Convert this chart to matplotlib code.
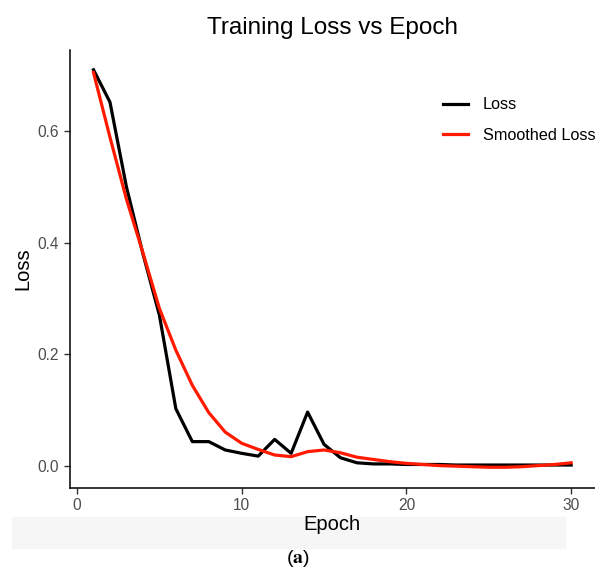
import numpy as np
import matplotlib
matplotlib.use("Agg")
import matplotlib.pyplot as plt
from matplotlib.patches import Rectangle

# ==================== DADOS ====================
epocas = list(range(1, 31))
loss = [0.710, 0.652, 0.500, 0.380, 0.270, 0.102, 0.043, 0.043, 0.028, 0.022,
        0.017, 0.047, 0.022, 0.096, 0.038, 0.014, 0.005, 0.003, 0.003, 0.002,
        0.002, 0.002, 0.001, 0.001, 0.001, 0.001, 0.001, 0.001, 0.001, 0.001]
loss_suave = [0.705, 0.589, 0.478, 0.382, 0.282, 0.207, 0.144, 0.095, 0.060, 0.040,
              0.029, 0.019, 0.016, 0.025, 0.028, 0.023, 0.015, 0.011, 0.007, 0.004,
              0.002, 0.000, -0.001, -0.002, -0.003, -0.003, -0.002, 0.000, 0.002, 0.005]
xticks = [0, 10, 20, 30]
yticks = [0.0, 0.2, 0.4, 0.6]
# ===============================================

plt.rcParams['font.family'] = ['Liberation Sans', 'DejaVu Sans']
plt.rcParams['mathtext.fontset'] = 'stix'

fig = plt.figure(figsize=(5.95, 5.85), dpi=100)
ax = fig.add_axes([0.117, 0.166, 0.883, 0.749])

# faixa cinza clara atrás do rótulo do eixo x
fig.patches.append(Rectangle((0.02, 0.063), 0.93, 0.053, transform=fig.transFigure,
                             color='#f6f6f6', zorder=-5))

ax.plot(epocas, loss, color='black', lw=2.3, label='Loss')
ax.plot(epocas, loss_suave, color='#ff1a00', lw=2.3, label='Smoothed Loss')

ax.set_xlim(-0.45, 31.45)
ax.set_ylim(-0.04, 0.746)
ax.set_xticks(xticks)
ax.set_yticks(yticks)
ax.set_yticklabels([f'{v:.1f}' for v in yticks])
ax.tick_params(colors='#333333', labelcolor='#4d4d4d', labelsize=11.2, length=4, width=1)
ax.patch.set_alpha(0)

for lado in ['top', 'right']:
    ax.spines[lado].set_visible(False)
for lado in ['left', 'bottom']:
    ax.spines[lado].set_linewidth(1.1)

ax.set_xlabel('Epoch', fontsize=14.5, labelpad=1)
ax.set_ylabel('Loss', fontsize=14.5, labelpad=4)
fig.text(0.558, 0.952, 'Training Loss vs Epoch', fontsize=17.5, ha='center', va='center')

ax.legend(loc='upper left', bbox_to_anchor=(0.683, 0.925), frameon=False, fontsize=11.7,
          handlelength=1.55, labelspacing=0.95, handletextpad=0.9)

fig.text(0.5, 0.046, r'($\mathbf{a}$)', fontsize=14, ha='center', va='center')

fig.savefig('out.png', dpi=100, facecolor='white')
